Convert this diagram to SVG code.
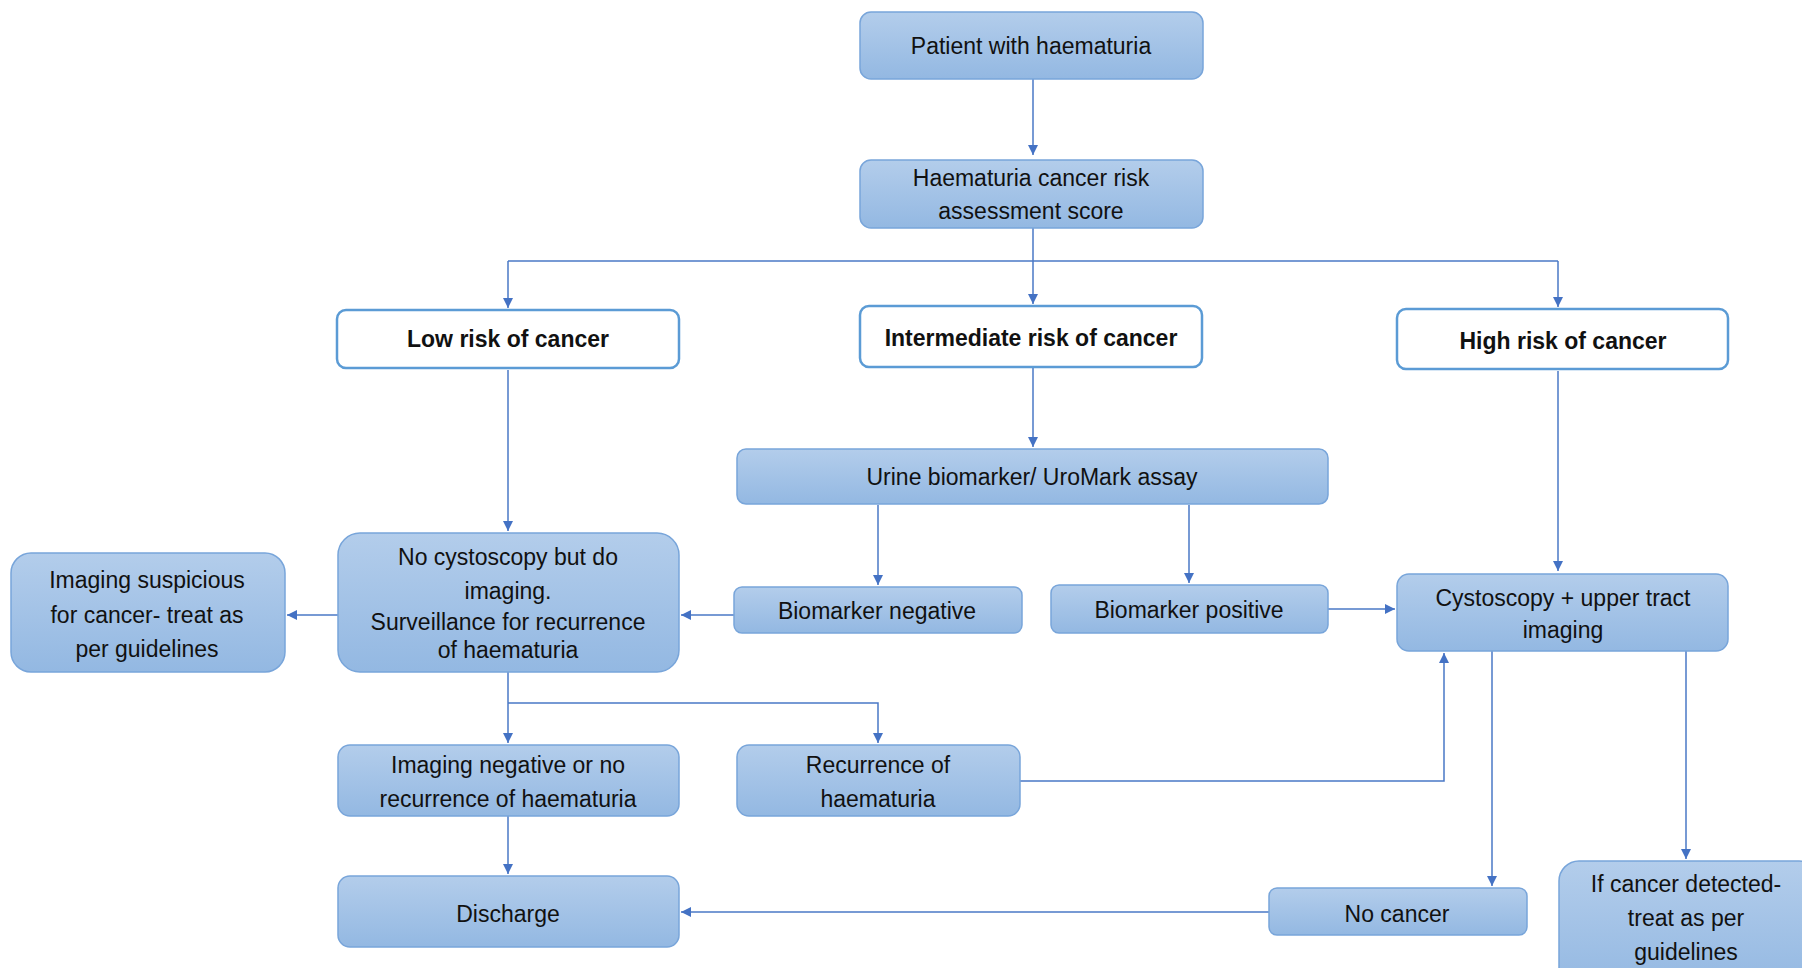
<svg xmlns="http://www.w3.org/2000/svg" width="1802" height="968" viewBox="0 0 1802 968">
<defs>
<linearGradient id="g" x1="0" y1="0" x2="0" y2="1">
<stop offset="0" stop-color="#b3cdeb"/>
<stop offset="1" stop-color="#93b8e2"/>
</linearGradient>
<marker id="a" viewBox="0 0 10 10" refX="10" refY="5" markerWidth="10" markerHeight="10" markerUnits="userSpaceOnUse" orient="auto">
<path d="M0,0 L10,5 L0,10 z" fill="#4472c4"/>
</marker>
<style>
.b{fill:url(#g);stroke:#78a5da;stroke-width:1.5}
.w{fill:#fff;stroke:#5b9bd5;stroke-width:2.5}
.t{font-family:"Liberation Sans",Arial,sans-serif;font-size:23px;fill:#111;text-anchor:middle}
.h{font-weight:bold}
.c{fill:none;stroke:#4a78c6;stroke-width:1.5}
</style>
</defs>
<rect width="1802" height="968" fill="#fff"/>
<g id="connectors">
<path class="c" d="M1033,79 V155" marker-end="url(#a)"/>
<path class="c" d="M1033,228 V304" marker-end="url(#a)"/>
<path class="c" d="M508,261 H1558"/>
<path class="c" d="M508,261 V308" marker-end="url(#a)"/>
<path class="c" d="M1558,261 V307" marker-end="url(#a)"/>
<path class="c" d="M508,370 V531" marker-end="url(#a)"/>
<path class="c" d="M1033,368 V447" marker-end="url(#a)"/>
<path class="c" d="M1558,371 V571" marker-end="url(#a)"/>
<path class="c" d="M878,505 V585" marker-end="url(#a)"/>
<path class="c" d="M1189,505 V583" marker-end="url(#a)"/>
<path class="c" d="M734,615 H681" marker-end="url(#a)"/>
<path class="c" d="M338,615 H287" marker-end="url(#a)"/>
<path class="c" d="M1328,609 H1395" marker-end="url(#a)"/>
<path class="c" d="M508,672 V743" marker-end="url(#a)"/>
<path class="c" d="M508,703 H878 V743" marker-end="url(#a)"/>
<path class="c" d="M1020,781 H1444 V653" marker-end="url(#a)"/>
<path class="c" d="M508,816 V874" marker-end="url(#a)"/>
<path class="c" d="M1492,651 V886" marker-end="url(#a)"/>
<path class="c" d="M1686,651 V859" marker-end="url(#a)"/>
<path class="c" d="M1269,912 H681" marker-end="url(#a)"/>
</g>
<g id="patient"><rect class="b" x="860" y="12" width="343" height="67" rx="11"/><text class="t" x="1031" y="54">Patient with haematuria</text></g>
<g id="score"><rect class="b" x="860" y="160" width="343" height="68" rx="11"/><text class="t" x="1031" y="186">Haematuria cancer risk</text><text class="t" x="1031" y="219">assessment score</text></g>
<g id="low"><rect class="w" x="337" y="310" width="342" height="58" rx="9"/><text class="t h" x="508" y="347">Low risk of cancer</text></g>
<g id="intermediate"><rect class="w" x="860" y="306" width="342" height="61" rx="9"/><text class="t h" x="1031" y="346">Intermediate risk of cancer</text></g>
<g id="high"><rect class="w" x="1397" y="309" width="331" height="60" rx="9"/><text class="t h" x="1563" y="349">High risk of cancer</text></g>
<g id="urine"><rect class="b" x="737" y="449" width="591" height="55" rx="9"/><text class="t" x="1032" y="485">Urine biomarker/ UroMark assay</text></g>
<g id="bneg"><rect class="b" x="734" y="587" width="288" height="46" rx="8"/><text class="t" x="877" y="619">Biomarker negative</text></g>
<g id="bpos"><rect class="b" x="1051" y="585" width="277" height="48" rx="8"/><text class="t" x="1189" y="618">Biomarker positive</text></g>
<g id="cysto"><rect class="b" x="1397" y="574" width="331" height="77" rx="12"/><text class="t" x="1563" y="606">Cystoscopy + upper tract</text><text class="t" x="1563" y="638">imaging</text></g>
<g id="nocysto"><rect class="b" x="338" y="533" width="341" height="139" rx="22"/><text class="t" x="508" y="565">No cystoscopy but do</text><text class="t" x="508" y="599">imaging.</text><text class="t" x="508" y="630">Surveillance for recurrence</text><text class="t" x="508" y="658">of haematuria</text></g>
<g id="suspicious"><rect class="b" x="11" y="553" width="274" height="119" rx="20"/><text class="t" x="147" y="588">Imaging suspicious</text><text class="t" x="147" y="623">for cancer- treat as</text><text class="t" x="147" y="657">per guidelines</text></g>
<g id="imgneg"><rect class="b" x="338" y="745" width="341" height="71" rx="12"/><text class="t" x="508" y="773">Imaging negative or no</text><text class="t" x="508" y="807">recurrence of haematuria</text></g>
<g id="recur"><rect class="b" x="737" y="745" width="283" height="71" rx="12"/><text class="t" x="878" y="773">Recurrence of</text><text class="t" x="878" y="807">haematuria</text></g>
<g id="discharge"><rect class="b" x="338" y="876" width="341" height="71" rx="12"/><text class="t" x="508" y="922">Discharge</text></g>
<g id="nocancer"><rect class="b" x="1269" y="888" width="258" height="47" rx="8"/><text class="t" x="1397" y="922">No cancer</text></g>
<g id="ifcancer"><rect class="b" x="1559" y="861" width="260" height="130" rx="20"/><text class="t" x="1686" y="892">If cancer detected-</text><text class="t" x="1686" y="926">treat as per</text><text class="t" x="1686" y="960">guidelines</text></g>
</svg>
